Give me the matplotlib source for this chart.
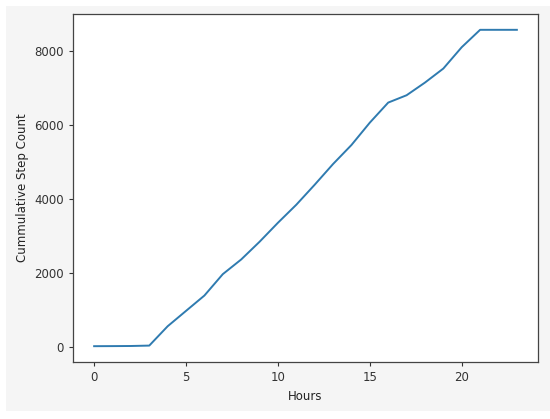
import matplotlib
matplotlib.use("Agg")
import matplotlib.pyplot as plt
from matplotlib.patches import Rectangle

hours = list(range(24))
steps = [20, 22, 25, 36, 558, 973, 1387, 1964, 2360, 2838, 3351, 3838,
         4378, 4937, 5450, 6054, 6595, 6793, 7135, 7514, 8090, 8559, 8559, 8559]

fs = 8.5
fig = plt.figure(figsize=(5.5, 4.19), dpi=100, facecolor="white")
fig.patches.append(Rectangle((6/550, 8/419), 544/550, 405/419,
                             transform=fig.transFigure, facecolor="#f5f5f5",
                             edgecolor="none", zorder=-10))
ax = fig.add_axes([73/550, (419-362)/419, 465/550, 348/419])
ax.plot(hours, steps, color="#2f7bb0", linewidth=1.4)
ax.set_xlabel("Hours", fontsize=fs, color="#222222")
ax.set_ylabel("Cummulative Step Count", fontsize=fs, color="#222222")
ax.set_xticks([0, 5, 10, 15, 20])
ax.set_yticks([0, 2000, 4000, 6000, 8000])
ax.tick_params(labelsize=fs, length=3, width=0.8, colors="#333333")
for s in ax.spines.values():
    s.set_linewidth(0.9)
    s.set_color("#444444")
fig.savefig("out.png", dpi=100, facecolor=fig.get_facecolor())
